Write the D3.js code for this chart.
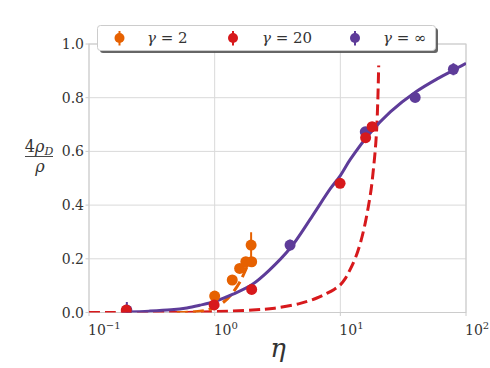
<!DOCTYPE html>
<html>
<head>
<meta charset="utf-8">
<script src="https://cdn.jsdelivr.net/npm/d3@7"></script>
<style>
body { margin: 0; background: #fff; }
svg { display: block; }
svg text { font-family: "DejaVu Serif", "Liberation Serif", serif; }
</style>
</head>
<body>
<svg id="chart" width="490" height="368"></svg>
<script>
// ---- data ----
const seriesNames = ["γ = 2", "γ = 20", "γ = ∞"];
const seriesColors = ["#e66101", "#d7191c", "#5e3c99"];

// measured points: eta, value, error
const ptsGamma2Eta = [1.0, 1.38, 1.58, 1.77, 1.97, 1.95];
const ptsGamma2Val = [0.061, 0.121, 0.164, 0.189, 0.189, 0.251];
const ptsGamma2Err = [0.008, 0.008, 0.008, 0.01, 0.01, 0.048];

const ptsGamma20Eta = [0.198, 0.99, 1.97, 9.95, 15.9, 17.9];
const ptsGamma20Val = [0.009, 0.028, 0.086, 0.481, 0.651, 0.692];
const ptsGamma20Err = [0.004, 0.004, 0.005, 0.005, 0.006, 0.006];

const ptsInfEta = [0.2, 3.98, 15.8, 39.4, 79.4];
const ptsInfVal = [0.009, 0.251, 0.673, 0.801, 0.906];
const ptsInfErr = [0.03, 0.02, 0.01, 0.01, 0.022];

// theory curves
const curveGamma2Eta = [0.5, 0.7, 0.9, 1.0, 1.2, 1.37, 1.57, 1.75, 1.85, 1.9];
const curveGamma2Val = [0.0, 0.003, 0.011, 0.02, 0.042, 0.07, 0.11, 0.155, 0.183, 0.2];

const curveGamma20Eta = [0.1, 0.5, 1.0, 2.0, 3.0, 4.8, 6.5, 7.8, 9.0, 10, 11.0, 11.9, 13.2, 14.4, 15.6, 16.7, 17.6, 18.3, 19.0, 19.5, 19.9, 20.2];
const curveGamma20Val = [0.0, 0.0, 0.003, 0.009, 0.016, 0.034, 0.054, 0.071, 0.087, 0.103, 0.128, 0.158, 0.204, 0.257, 0.322, 0.394, 0.46, 0.53, 0.61, 0.69, 0.8, 0.92];

const curveInfEta = [0.2, 0.3, 0.45, 0.6, 0.76, 1.0, 1.4, 2.0, 2.7, 4.0, 6.0, 8.3, 10, 12, 17, 25, 40, 60, 80, 100];
const curveInfVal = [0.002, 0.005, 0.01, 0.017, 0.027, 0.041, 0.068, 0.105, 0.156, 0.24, 0.36, 0.46, 0.51, 0.57, 0.665, 0.747, 0.822, 0.872, 0.903, 0.928];

const xTicks = [0.1, 1, 10, 100];
const xTickExp = ["−1", "0", "1", "2"];
const yTicks = [0.0, 0.2, 0.4, 0.6, 0.8, 1.0];

// ---- layout ----
const svg = d3.select("#chart");
const TXT = "#333";
const L = 89, R = 466, T = 44, B = 312.5;
const x = d3.scaleLog().domain([0.1, 100]).range([L, R]);
const y = d3.scaleLinear().domain([0, 1]).range([B, T]);

// grid
const g = svg.append("g");
g.selectAll(".gx").data(xTicks).enter().append("line")
  .attr("x1", d => x(d)).attr("x2", d => x(d)).attr("y1", T).attr("y2", B)
  .attr("stroke", "#d9d9d9").attr("stroke-width", 1);
g.selectAll(".gy").data(yTicks).enter().append("line")
  .attr("x1", L).attr("x2", R).attr("y1", d => y(d)).attr("y2", d => y(d))
  .attr("stroke", "#d9d9d9").attr("stroke-width", 1);
// ticks
g.selectAll(".ty").data(yTicks).enter().append("line")
  .attr("x1", L - 3.5).attr("x2", L).attr("y1", d => y(d)).attr("y2", d => y(d))
  .attr("stroke", "#cccccc");
g.selectAll(".tx").data(xTicks).enter().append("line")
  .attr("x1", d => x(d)).attr("x2", d => x(d)).attr("y1", B).attr("y2", B + 3.5)
  .attr("stroke", "#cccccc");
// frame
g.append("rect").attr("x", L).attr("y", T).attr("width", R - L).attr("height", B - T)
  .attr("fill", "none").attr("stroke", "#cccccc").attr("stroke-width", 1);

// tick labels
g.selectAll(".ly").data(yTicks).enter().append("text")
  .attr("x", L - 5).attr("y", d => y(d) + 5).attr("text-anchor", "end")
  .attr("font-size", 14).attr("fill", TXT).text(d => d.toFixed(1));
xTicks.forEach((d, i) => {
  const t = g.append("text").attr("x", x(d) - 1).attr("y", B + 22).attr("font-size", 14).attr("fill", TXT);
  t.append("tspan").text("10");
  t.append("tspan").attr("dy", -6).attr("font-size", 10).text(xTickExp[i]);
});

// axis labels
svg.append("text").attr("x", 278).attr("y", 357).attr("text-anchor", "middle")
  .attr("font-size", 26).attr("font-style", "italic").attr("fill", TXT).text("η");
const yl = svg.append("g");
const yt = yl.append("text").attr("x", 39).attr("y", 152).attr("text-anchor", "middle")
  .attr("font-size", 16).attr("fill", TXT);
yt.append("tspan").text("4");
yt.append("tspan").attr("font-style", "italic").text("ρ");
yt.append("tspan").attr("font-style", "italic").attr("font-size", 11).attr("dy", 3).text("D");
yl.append("line").attr("x1", 25).attr("x2", 53).attr("y1", 156.5).attr("y2", 156.5)
  .attr("stroke", TXT).attr("stroke-width", 0.9);
yl.append("text").attr("x", 40).attr("y", 172).attr("text-anchor", "middle")
  .attr("font-size", 16).attr("font-style", "italic").attr("fill", TXT).text("ρ");

// clip
svg.append("clipPath").attr("id", "clip").append("rect")
  .attr("x", L).attr("y", T - 30).attr("width", R - L).attr("height", B - T + 30);
const plot = svg.append("g").attr("clip-path", "url(#clip)");

const line = d3.line().x(d => x(d[0])).y(d => y(d[1])).curve(d3.curveCatmullRom.alpha(0.5));
const zip = (a, b) => a.map((v, i) => [v, b[i]]);

plot.append("path").datum(zip(curveGamma20Eta, curveGamma20Val)).attr("d", line)
  .attr("fill", "none").attr("stroke", seriesColors[1]).attr("stroke-width", 3)
  .attr("stroke-dasharray", "11,5");
plot.append("path").datum(zip(curveGamma2Eta, curveGamma2Val)).attr("d", line)
  .attr("fill", "none").attr("stroke", seriesColors[0]).attr("stroke-width", 3)
  .attr("stroke-dasharray", "11,5");
plot.append("path").datum(zip(curveInfEta, curveInfVal)).attr("d", line)
  .attr("fill", "none").attr("stroke", seriesColors[2]).attr("stroke-width", 3);

function drawPts(etas, vals, errs, color) {
  const data = etas.map((e, i) => ({ e, v: vals[i], err: errs[i] }));
  const gg = plot.append("g");
  gg.selectAll("line").data(data).enter().append("line")
    .attr("x1", d => x(d.e)).attr("x2", d => x(d.e))
    .attr("y1", d => y(d.v - d.err)).attr("y2", d => y(d.v + d.err))
    .attr("stroke", color).attr("stroke-width", 2);
  gg.selectAll("circle").data(data).enter().append("circle")
    .attr("cx", d => x(d.e)).attr("cy", d => y(d.v)).attr("r", 5.5)
    .attr("fill", color);
}
drawPts(ptsGamma2Eta, ptsGamma2Val, ptsGamma2Err, seriesColors[0]);
drawPts(ptsInfEta, ptsInfVal, ptsInfErr, seriesColors[2]);
drawPts(ptsGamma20Eta, ptsGamma20Val, ptsGamma20Err, seriesColors[1]);

// legend
const lg = svg.append("g");
lg.append("rect").attr("x", 100).attr("y", 28).attr("width", 338).attr("height", 25)
  .attr("rx", 3).attr("fill", "#555").attr("opacity", 0.9);
lg.append("rect").attr("x", 97.5).attr("y", 25.5).attr("width", 338).attr("height", 25)
  .attr("rx", 3).attr("fill", "#fff").attr("stroke", "#cccccc");
const legX = [119.5, 233, 355];
const legTx = [147, 262, 383];
seriesNames.forEach((nm, i) => {
  lg.append("line").attr("x1", legX[i]).attr("x2", legX[i]).attr("y1", 31).attr("y2", 45.5)
    .attr("stroke", seriesColors[i]).attr("stroke-width", 2);
  lg.append("circle").attr("cx", legX[i]).attr("cy", 38).attr("r", 5)
    .attr("fill", seriesColors[i]);
  const parts = nm.split(" ");
  const t = lg.append("text").attr("x", legTx[i]).attr("y", 43).attr("font-size", 15).attr("fill", TXT);
  t.append("tspan").attr("font-style", "italic").text(parts[0]);
  t.append("tspan").text(" " + parts[1] + " " + parts[2]);
});
</script>
</body>
</html>
